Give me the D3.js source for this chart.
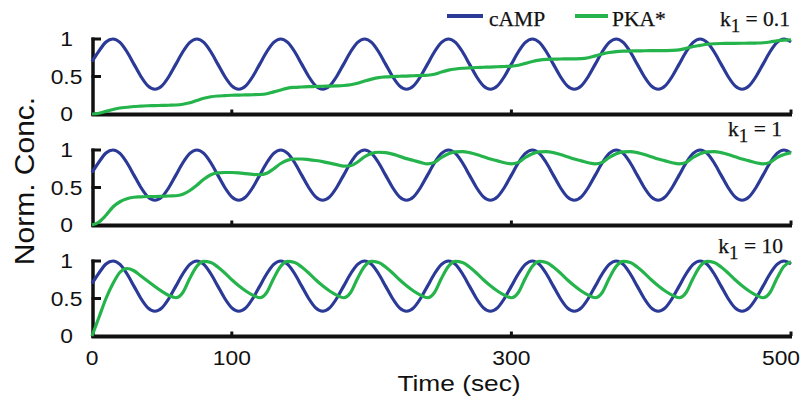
<!DOCTYPE html>
<html><head><meta charset="utf-8">
<script src="https://cdn.jsdelivr.net/npm/d3@7"></script>
<style>body{margin:0;background:#fff} svg{display:block}</style>
</head><body><svg id="c" width="802" height="401"></svg>
<script>
// sample times (sec), every 5 s from 0 to 500
const times = d3.range(0, 501, 5);

// normalised cAMP (same in all panels)
const camp = [
 0.70,0.84,0.96,1.0,0.955,0.83,0.665,0.50,0.375,0.33,0.375,0.50,
 0.665,0.83,0.955,1.0,0.955,0.83,0.665,0.50,0.375,0.33,0.375,0.50,
 0.665,0.83,0.955,1.0,0.955,0.83,0.665,0.50,0.375,0.33,0.375,0.50,
 0.665,0.83,0.955,1.0,0.955,0.83,0.665,0.50,0.375,0.33,0.375,0.50,
 0.665,0.83,0.955,1.0,0.955,0.83,0.665,0.50,0.375,0.33,0.375,0.50,
 0.665,0.83,0.955,1.0,0.955,0.83,0.665,0.50,0.375,0.33,0.375,0.50,
 0.665,0.83,0.955,1.0,0.955,0.83,0.665,0.50,0.375,0.33,0.375,0.50,
 0.665,0.83,0.955,1.0,0.955,0.83,0.665,0.50,0.375,0.33,0.375,0.50,
 0.665,0.83,0.955,1.0,0.96
];

// PKA* for k1 = 0.1
const pkaK01 = [
 0,0.01,0.035,0.06,0.08,0.09,0.10,0.105,0.11,0.112,0.115,0.117,
 0.12,0.13,0.15,0.18,0.21,0.23,0.24,0.245,0.25,0.252,0.255,0.257,
 0.26,0.27,0.295,0.32,0.345,0.355,0.36,0.365,0.367,0.37,0.372,0.375,
 0.38,0.39,0.41,0.44,0.465,0.485,0.495,0.50,0.503,0.506,0.51,0.513,
 0.517,0.53,0.56,0.585,0.60,0.61,0.615,0.62,0.623,0.626,0.63,0.633,
 0.637,0.65,0.675,0.70,0.718,0.728,0.732,0.733,0.735,0.736,0.738,0.75,
 0.775,0.80,0.82,0.832,0.838,0.84,0.842,0.843,0.844,0.845,0.846,0.848,
 0.855,0.875,0.90,0.915,0.93,0.937,0.94,0.941,0.942,0.943,0.944,0.946,
 0.95,0.96,0.975,0.985,0.99
];

// PKA* for k1 = 1
const pkaK1 = [
 0,0.04,0.13,0.24,0.31,0.35,0.37,0.375,0.38,0.38,0.383,0.387,
 0.39,0.41,0.46,0.53,0.61,0.67,0.695,0.70,0.70,0.695,0.685,0.675,
 0.67,0.69,0.75,0.82,0.865,0.88,0.88,0.872,0.86,0.845,0.825,0.805,
 0.785,0.79,0.84,0.91,0.955,0.97,0.965,0.945,0.915,0.885,0.86,0.835,
 0.815,0.835,0.90,0.95,0.975,0.978,0.965,0.94,0.91,0.88,0.855,0.83,
 0.815,0.835,0.90,0.95,0.975,0.978,0.965,0.94,0.91,0.88,0.855,0.83,
 0.815,0.835,0.90,0.95,0.975,0.978,0.965,0.94,0.91,0.88,0.855,0.83,
 0.815,0.835,0.90,0.95,0.975,0.978,0.965,0.94,0.91,0.88,0.855,0.83,
 0.815,0.835,0.90,0.94,0.965
];

// PKA* for k1 = 10
const pkaK10 = [
 0,0.25,0.50,0.70,0.85,0.90,0.87,0.80,0.73,0.66,0.595,0.54,
 0.51,0.58,0.77,0.93,0.995,0.98,0.92,0.84,0.75,0.67,0.60,0.545,
 0.51,0.58,0.77,0.93,0.995,0.98,0.92,0.84,0.75,0.67,0.60,0.545,
 0.51,0.58,0.77,0.93,0.995,0.98,0.92,0.84,0.75,0.67,0.60,0.545,
 0.51,0.58,0.77,0.93,0.995,0.98,0.92,0.84,0.75,0.67,0.60,0.545,
 0.51,0.58,0.77,0.93,0.995,0.98,0.92,0.84,0.75,0.67,0.60,0.545,
 0.51,0.58,0.77,0.93,0.995,0.98,0.92,0.84,0.75,0.67,0.60,0.545,
 0.51,0.58,0.77,0.93,0.995,0.98,0.92,0.84,0.75,0.67,0.60,0.545,
 0.51,0.58,0.77,0.93,0.99
];

const k1Values = ["0.1", "1", "10"];
const pkaSeries = [pkaK01, pkaK1, pkaK10];
const seriesNames = ["cAMP", "PKA*"];
const xTicks = [0, 100, 300, 500];
const yTicks = [0, 0.5, 1];
const yTickLabels = ["0", "0.5", "1"];

const BLUE = "#2b3a97", GREEN = "#25b44b";
const svg = d3.select("#c");

const x = d3.scaleLinear().domain([0, 500]).range([92, 791]);
const panels = [
  {top: 39, bottom: 114, labelY: 26, labelX: 790},
  {top: 150, bottom: 225, labelY: 136, labelX: 782},
  {top: 261, bottom: 336, labelY: 253, labelX: 783}
];

const sansFont = "'Liberation Sans', Arial, Helvetica, sans-serif";
const serifFont = "'Liberation Serif', 'Times New Roman', serif";

panels.forEach((p, i) => {
  const y = d3.scaleLinear().domain([0, 1]).range([p.bottom, p.top]);
  const g = svg.append("g");
  const line = d3.line().x((d, j) => x(times[j])).y(d => y(d)).curve(d3.curveMonotoneX);

  // axes
  g.append("line").attr("x1", 93).attr("x2", 93).attr("y1", y(1) - 1.5).attr("y2", y(0) + 2)
    .attr("stroke", "#111").attr("stroke-width", 3.5);
  [1, 0.5].forEach(v => {
    g.append("line").attr("x1", 91.5).attr("x2", 101).attr("y1", y(v)).attr("y2", y(v))
      .attr("stroke", "#111").attr("stroke-width", 3);
  });
  g.append("line").attr("x1", 91.5).attr("x2", x(500) + 1).attr("y1", y(0) + 0.5).attr("y2", y(0) + 0.5)
    .attr("stroke", "#111").attr("stroke-width", 4);
  xTicks.filter(t => t > 0).forEach(t => {
    g.append("line").attr("x1", x(t)).attr("x2", x(t)).attr("y1", y(0)).attr("y2", y(0) - 4.5)
      .attr("stroke", "#111").attr("stroke-width", 3);
  });

  // y tick labels
  yTicks.forEach((v, k) => {
    g.append("text")
      .attr("transform", `translate(66.5,${y(v)}) scale(1.17,1)`)
      .attr("dy", "0.36em").attr("text-anchor", "middle")
      .attr("font-family", sansFont).attr("font-size", 19.5).attr("fill", "#111")
      .text(yTickLabels[k]);
  });

  // series
  g.append("path").datum(camp).attr("d", line).attr("fill", "none")
    .attr("stroke", BLUE).attr("stroke-width", 3.2);
  g.append("path").datum(pkaSeries[i]).attr("d", line).attr("fill", "none")
    .attr("stroke", GREEN).attr("stroke-width", 3.2);

  // k1 label
  const t = g.append("text").attr("x", p.labelX).attr("y", p.labelY).attr("text-anchor", "end")
    .attr("font-family", serifFont).attr("font-size", 21.5).attr("fill", "#111")
    .attr("stroke", "#111").attr("stroke-width", 0.25);
  t.append("tspan").text("k");
  t.append("tspan").attr("dy", 6).attr("font-size", 19).text("1");
  t.append("tspan").attr("dy", -6).text(" = " + k1Values[i]);

  // x tick labels on bottom panel
  if (i === 2) {
    xTicks.forEach((v, k) => {
      const last = k === xTicks.length - 1;
      g.append("text")
        .attr("transform", `translate(${last ? 781 : x(v)},${y(0) + 29}) scale(1.17,1)`)
        .attr("text-anchor", "middle")
        .attr("font-family", sansFont).attr("font-size", 19.5).attr("fill", "#111")
        .text(v);
    });
  }
});

// axis titles
svg.append("text").attr("transform", "translate(459,391) scale(1.17,1)").attr("text-anchor", "middle")
  .attr("font-family", sansFont).attr("font-size", 22.5).attr("fill", "#111").text("Time (sec)");
svg.append("text").attr("transform", "translate(34,181) rotate(-90) scale(1.2,1.1)").attr("text-anchor", "middle")
  .attr("font-family", sansFont).attr("font-size", 25).attr("fill", "#111").text("Norm. Conc.");

// legend
const legend = svg.append("g");
const legendItems = [
  {name: seriesNames[0], color: BLUE, x1: 447, x2: 483, tx: 489},
  {name: seriesNames[1], color: GREEN, x1: 575, x2: 608, tx: 612}
];
legendItems.forEach(d => {
  legend.append("line").attr("x1", d.x1).attr("x2", d.x2).attr("y1", 16).attr("y2", 16)
    .attr("stroke", d.color).attr("stroke-width", 4);
  legend.append("text").attr("x", d.tx).attr("y", 26)
    .attr("font-family", serifFont).attr("font-size", 21.5).attr("fill", "#111")
    .attr("stroke", "#111").attr("stroke-width", 0.25).text(d.name);
});
</script></body></html>
